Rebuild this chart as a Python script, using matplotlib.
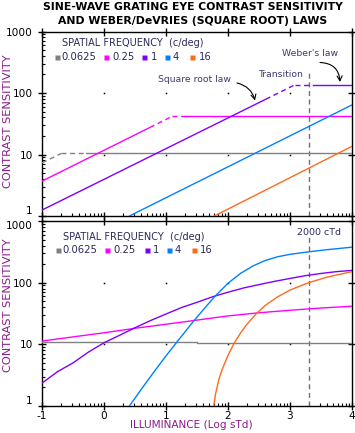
import numpy as np
import matplotlib
matplotlib.use('Agg')
import matplotlib.pyplot as plt
from matplotlib.ticker import FixedLocator, FixedFormatter, NullFormatter
from matplotlib.patches import FancyArrowPatch, Rectangle
from matplotlib.lines import Line2D
import matplotlib.transforms as mtransforms

plt.rcParams['font.family'] = ['DejaVu Sans']
plt.rcParams['lines.scale_dashes'] = False
plt.rcParams['axes.unicode_minus'] = False

# ---------------- data ----------------
freq_labels = ['0.0625', '0.25', '1', '4', '16']
freq_colors = ['#808080', '#ff00ff', '#8000ff', '#0080ff', '#ff6a1a']

# top panel: square-root (DeVries) law segments ending at the Weber plateau
sqrt_start_x = [-1.0, -1.0, -1.0, 0.41, 1.78]
sqrt_start_y = [7.3, 3.69, 1.25, 1.0, 1.0]
sqrt_end_x = [-0.69, 1.10, 3.08, 4.0, 4.0]
sqrt_end_y = [10.4, 41.7, 136.0, 64.0, 13.6]
weber_level = [10.4, 41.7, 136.0, None, None]

x_ticks = [-1, 0, 1, 2, 3, 4]
x_ticklabels = ['-1', '0', '1', '2', '3', '4']
y_ticks = [1, 10, 100, 1000]
y_ticklabels = ['1', '10', '100', '1000']
illum_2000_ctd = 3.30   # log10(2000)

# bottom panel: measured contrast sensitivity vs illuminance
gray_x = [-1.0, 1.5, 1.5, 4.0]
gray_y = [10.8, 10.8, 10.4, 10.4]
mag_x = [-1, -0.5, 0, 0.5, 1, 1.5, 2, 2.5, 3, 3.5, 4]
mag_y = [11.3, 13.2, 15.4, 18.2, 21.2, 24.7, 28.9, 32.5, 35.7, 38.8, 41.5]
pur_x = [-1, -0.75, -0.5, -0.25, 0, 0.25, 0.5, 0.75, 1, 1.25, 1.5, 1.75,
         2, 2.25, 2.5, 2.75, 3, 3.25, 3.5, 3.75, 4]
pur_y = [2.35, 3.6, 5.0, 7.5, 10.6, 14.0, 18.6, 24.3, 31.0, 39.5, 48, 59,
         70, 82, 93, 105, 117, 130, 141, 151, 158]
blu_x = [0.41, 0.6, 0.8, 1.0, 1.2, 1.4, 1.6, 1.8, 2.0, 2.2, 2.4, 2.6, 2.8,
         3.0, 3.3, 3.6, 4.0]
blu_y = [1.0, 1.86, 3.5, 6.5, 11.7, 20.9, 36.3, 61.7, 97.7, 141, 186, 229,
         263, 288, 316, 343, 376]
org_x = [1.77, 1.8, 1.85, 1.9, 2.0, 2.1, 2.2, 2.3, 2.45, 2.6, 2.8, 3.0,
         3.3, 3.6, 4.0]
org_y = [1.0, 1.58, 2.63, 3.8, 6.6, 10.5, 15.1, 20.9, 30.9, 42.7, 58.9,
         75.9, 100, 123, 151]

# ---------------- style / layout ----------------
W, H = 355, 433
NAVY = '#2a2a5a'
ANNO = '#3c3c70'
LABEL = '#8a1a8a'
VLINE = '#7a6a7a'
dash_from = [-1.0, 0.76, 2.66, None, None]
dash_to = [-0.29, 1.31, 3.40, None, None]
DASH = (3.6, 2.6)


def F(x, y):
    return x / W, 1 - y / H


fig = plt.figure(figsize=(W / 100, H / 100), dpi=100)
ax1 = fig.add_axes([42 / W, 1 - 216 / H, 310 / W, 184.5 / H])
ax2 = fig.add_axes([42 / W, 1 - 406 / H, 310 / W, 185 / H])

minor_x = [d + np.log10(k) for d in range(-1, 4) for k in range(2, 10)]

for ax in (ax1, ax2):
    ax.set_yscale('log')
    ax.set_xlim(-1, 4)
    ax.set_ylim(1, 1000)
    ax.xaxis.set_major_locator(FixedLocator(x_ticks))
    ax.xaxis.set_minor_locator(FixedLocator(minor_x))
    ax.yaxis.set_major_locator(FixedLocator(y_ticks))
    ax.yaxis.set_major_formatter(FixedFormatter(y_ticklabels))
    ax.yaxis.set_minor_formatter(NullFormatter())
    ax.tick_params(which='major', direction='inout', length=6, width=1.0,
                   top=True, right=True, labelsize=7.6, colors='black')
    ax.tick_params(axis='y', which='major', pad=3.6)
    ax.tick_params(axis='x', which='major', pad=0.6)
    ax.tick_params(which='minor', direction='in', length=2.2, width=0.8,
                   top=False, right=False, left=True, bottom=True)
    for s in ax.spines.values():
        s.set_linewidth(1.0)
        s.set_color('black')
    # grid dots at major intersections
    gx, gy = np.meshgrid([0, 1, 2, 3], [10, 100])
    ax.plot(gx.ravel(), gy.ravel(), linestyle='none', marker='s', ms=1.1,
            mec='none', mfc='black', zorder=1)
    ax.set_ylabel('CONTRAST SENSITIVITY', fontsize=8.2, color=LABEL)
    ax.yaxis.label.set_va('center')

ax1.xaxis.set_major_formatter(NullFormatter())
ax2.xaxis.set_major_formatter(FixedFormatter(x_ticklabels))
ax1.yaxis.set_label_coords((8 - 42) / 310, 1 - (121 - 31.5) / 184.5)
ax2.yaxis.set_label_coords((8 - 42) / 310, 1 - (305 - 221) / 185)
ax2.set_xlabel('ILLUMINANCE (Log sTd)', fontsize=7.6, color=LABEL)
ax2.xaxis.label.set_va('center')
ax2.xaxis.set_label_coords((191 - 42) / 310, -(425 - 406) / 185)

# keep the "1" of the top panel and the "1000" of the bottom panel apart
fig.canvas.draw()
ax1.get_yticklabels()[0].set_va('bottom')
ax2.get_yticklabels()[-1].set_va('top')
ax2.get_yticklabels()[0].set_va('bottom')

# ---------- top panel ----------
blend1 = mtransforms.blended_transform_factory(ax1.transData, ax1.transAxes)


def clipped(ax, xs, ys, color, x0, x1, dashed, blend):
    ln, = ax.plot(xs, ys, color=color, lw=1.0, zorder=3)
    if dashed:
        ln.set_dashes(DASH)
    r = Rectangle((x0, 0), x1 - x0, 1, transform=blend)
    ln.set_clip_path(r)
    return ln


for i in range(5):
    c = freq_colors[i]
    sx = [sqrt_start_x[i], sqrt_end_x[i]]
    sy = [sqrt_start_y[i], sqrt_end_y[i]]
    if weber_level[i] is None:
        ax1.plot(sx, sy, color=c, lw=1.0, zorder=3)
        continue
    wx = [sqrt_end_x[i], 4.0]
    wy = [weber_level[i], weber_level[i]]
    d0, d1 = dash_from[i], dash_to[i]
    clipped(ax1, sx, sy, c, -1.0, d0, False, blend1)
    clipped(ax1, sx, sy, c, d0, d1, True, blend1)
    clipped(ax1, wx, wy, c, d0, d1, True, blend1)
    clipped(ax1, wx, wy, c, d1, 4.0, False, blend1)

ax1.axvline(illum_2000_ctd, ymin=0, ymax=0.78, color=VLINE, lw=1.0,
            dashes=DASH, zorder=2)
ax2.axvline(illum_2000_ctd, ymin=0, ymax=0.915, color=VLINE, lw=1.0,
            dashes=DASH, zorder=2)

# ---------- bottom panel ----------
series = [(gray_x, gray_y), (mag_x, mag_y), (pur_x, pur_y),
          (blu_x, blu_y), (org_x, org_y)]
for (xs, ys), c in zip(series, freq_colors):
    ax2.plot(xs, ys, color=c, lw=1.0, zorder=3)


# ---------- legends ----------
def legend(title_x, title_y, row_y, sq_xs, txt_xs):
    fig.text(*F(title_x, title_y), 'SPATIAL FREQUENCY  (c/deg)', fontsize=7.0,
             color=NAVY, ha='left', va='center')
    for sx, tx, lab, c in zip(sq_xs, txt_xs, freq_labels, freq_colors):
        fx, fy = F(sx, row_y)
        fig.add_artist(Line2D([fx], [fy], marker='s', ms=3.6, mec='none',
                              mfc=c, linestyle='none',
                              transform=fig.transFigure, zorder=10))
        fig.text(*F(tx, row_y), lab, fontsize=7.2, color=NAVY,
                 ha='left', va='center')


legend(62, 43, 57, [56.8, 106, 144.3, 166.7, 191.7],
       [61.2, 112.8, 151.2, 172.8, 198.5])
legend(63, 237, 250, [58.3, 107.3, 146.7, 169.3, 194.3],
       [62.8, 113.5, 152.5, 174.5, 199.5])

# ---------- titles and annotations ----------
fig.text(*F(193, 7.5), 'SINE-WAVE GRATING EYE CONTRAST SENSITIVITY',
         fontsize=7.8, fontweight='bold', ha='center', va='center',
         color='black')
fig.text(*F(193, 21), 'AND WEBER/DeVRIES (SQUARE ROOT) LAWS',
         fontsize=7.8, fontweight='bold', ha='center', va='center',
         color='black')

fig.text(*F(158, 80), 'Square root law', fontsize=6.7, color=ANNO,
         ha='left', va='center')
fig.text(*F(258, 74.3), 'Transition', fontsize=6.7, color=ANNO,
         ha='left', va='center')
fig.text(*F(282, 54), "Weber's law", fontsize=6.7, color=ANNO,
         ha='left', va='center')
fig.text(*F(297, 233), '2000 cTd', fontsize=6.8, color=NAVY,
         ha='left', va='center')

for a, b, rad in [((237, 83), (255, 100.5), -0.3),
                  ((320, 62.5), (340, 82), -0.45)]:
    arr = FancyArrowPatch(F(*a), F(*b), transform=fig.transFigure,
                          connectionstyle=f'arc3,rad={rad}',
                          arrowstyle='->,head_length=3.5,head_width=1.8',
                          mutation_scale=1, lw=0.8, color='black',
                          shrinkA=0, shrinkB=0)
    fig.add_artist(arr)

fig.savefig('out.png', dpi=100)
